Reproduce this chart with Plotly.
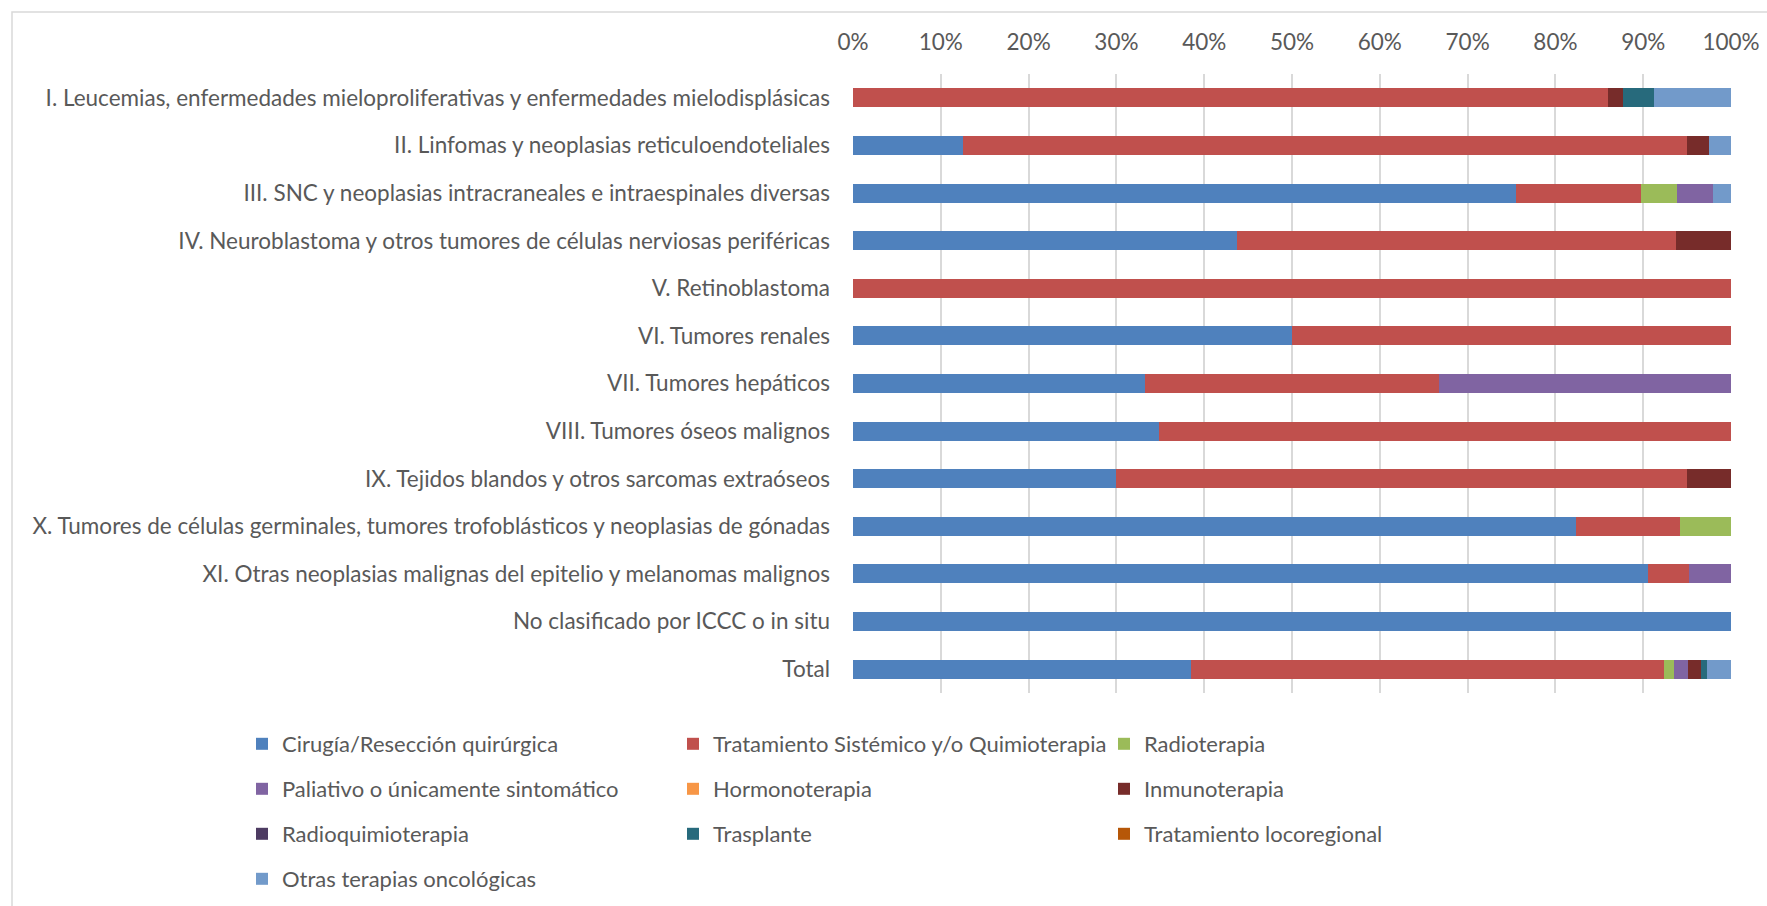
import plotly.graph_objects as go

# ICCC diagnostic groups, top to bottom
categories = [
    "I. Leucemias, enfermedades mieloproliferativas y enfermedades mielodisplásicas",
    "II. Linfomas y neoplasias reticuloendoteliales",
    "III. SNC y neoplasias intracraneales e intraespinales diversas",
    "IV. Neuroblastoma y otros tumores de células nerviosas periféricas",
    "V. Retinoblastoma",
    "VI. Tumores renales",
    "VII. Tumores hepáticos",
    "VIII. Tumores óseos malignos",
    "IX. Tejidos blandos y otros sarcomas extraóseos",
    "X. Tumores de células germinales, tumores trofoblásticos y neoplasias de gónadas",
    "XI. Otras neoplasias malignas del epitelio y melanomas malignos",
    "No clasificado por ICCC o in situ",
    "Total",
]

# Share of each treatment type (%) per diagnostic group
cirugia = [0, 12.5, 75.5, 43.75, 0, 50, 33.3, 34.9, 30, 82.4, 90.5, 100, 38.5]
sistemico = [86.0, 82.5, 14.3, 50, 100, 50, 33.4, 65.1, 65, 11.8, 4.75, 0, 53.9]
radioterapia = [0, 0, 4.1, 0, 0, 0, 0, 0, 0, 5.8, 0, 0, 1.15]
paliativo = [0, 0, 4.1, 0, 0, 0, 33.3, 0, 0, 0, 4.75, 0, 1.5]
hormonoterapia = [0] * 13
inmunoterapia = [1.75, 2.5, 0, 6.25, 0, 0, 0, 0, 5, 0, 0, 0, 1.5]
radioquimioterapia = [0] * 13
trasplante = [3.5, 0, 0, 0, 0, 0, 0, 0, 0, 0, 0, 0, 0.75]
locoregional = [0] * 13
otras = [8.75, 2.5, 2.0, 0, 0, 0, 0, 0, 0, 0, 0, 0, 2.7]

x_ticks = list(range(0, 101, 10))

series = [
    ("Cirugía/Resección quirúrgica", cirugia, "#4F81BD", "legend"),
    ("Tratamiento Sistémico y/o Quimioterapia", sistemico, "#C0504D", "legend"),
    ("Radioterapia", radioterapia, "#9BBB59", "legend"),
    ("Paliativo o únicamente sintomático", paliativo, "#8064A2", "legend2"),
    ("Hormonoterapia", hormonoterapia, "#F79646", "legend2"),
    ("Inmunoterapia", inmunoterapia, "#772C2A", "legend2"),
    ("Radioquimioterapia", radioquimioterapia, "#4D3B62", "legend3"),
    ("Trasplante", trasplante, "#276A7C", "legend3"),
    ("Tratamiento locoregional", locoregional, "#B65708", "legend3"),
    ("Otras terapias oncológicas", otras, "#729ACA", "legend4"),
]

FONT = "Lato"
TXT = "#595959"
FS = 22.5

fig = go.Figure()
for name, vals, color, leg in series:
    fig.add_trace(go.Bar(
        y=categories, x=vals, name=name, orientation="h",
        marker=dict(color=color, line=dict(width=0)),
        legend=leg, hoverinfo="name+x",
    ))

W, H = 1767, 906
ml, mr, mt, mb = 853, 36, 74, 213
plot_w = W - ml - mr
plot_h = H - mt - mb


def px_x(p):
    return (p - ml) / plot_w


def px_y(p):
    return (H - mb - p) / plot_h


legend_common = dict(
    orientation="h", entrywidth=386, entrywidthmode="pixels",
    xanchor="left", yanchor="middle", x=px_x(242),
    font=dict(family=FONT, size=22, color=TXT), bgcolor="rgba(0,0,0,0)",
    traceorder="normal",
)

fig.update_layout(
    width=W, height=H,
    margin=dict(l=ml, r=mr, t=mt, b=mb, autoexpand=False),
    barmode="stack", bargap=0.6,
    plot_bgcolor="white", paper_bgcolor="white",
    font=dict(family=FONT, size=FS, color=TXT),
    xaxis=dict(
        side="top", range=[0, 100], tickvals=x_ticks,
        ticktext=[f"{v}%" for v in x_ticks],
        showgrid=True, gridcolor="#D9D9D9", gridwidth=1.5,
        zeroline=False, showline=False, ticks="", automargin=False,
        ticklabelstandoff=19,
        tickfont=dict(family=FONT, size=FS, color=TXT),
    ),
    yaxis=dict(
        autorange="reversed", showgrid=False, zeroline=False,
        showline=False, ticks="", ticklabelstandoff=22, automargin=False,
        tickfont=dict(family=FONT, size=FS, color=TXT),
    ),
    legend=dict(legend_common, y=px_y(744)),
    legend2=dict(legend_common, y=px_y(789)),
    legend3=dict(legend_common, y=px_y(834)),
    legend4=dict(legend_common, y=px_y(879)),
    shapes=[dict(
        type="rect", xref="paper", yref="paper",
        x0=px_x(12), x1=px_x(W + 20), y0=px_y(12), y1=px_y(H + 20),
        line=dict(color="#D9D9D9", width=1.5), fillcolor="rgba(0,0,0,0)",
        layer="below",
    )],
)

fig.write_html("out.html")
